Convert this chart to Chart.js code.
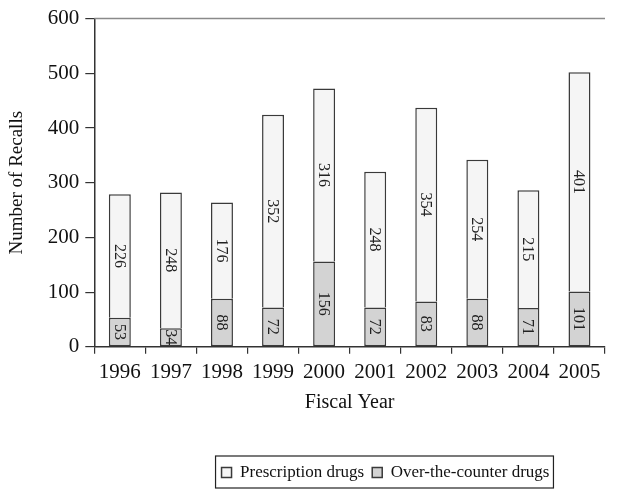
<!DOCTYPE html>
<html>
<head>
<meta charset="utf-8">
<script src="https://cdn.jsdelivr.net/npm/chart.js@4.4.1/dist/chart.umd.min.js"></script>
<style>
  html, body { margin: 0; padding: 0; background: #fff; }
  #wrap { width: 621px; height: 491px; }
</style>
</head>
<body>
<div id="wrap"><canvas id="recallChart"></canvas></div>
<script>
// fiscal years and recall counts
var years = ["1996", "1997", "1998", "1999", "2000", "2001", "2002", "2003", "2004", "2005"];
var otcRecalls = [53, 34, 88, 72, 156, 72, 83, 88, 71, 101];
var rxRecalls = [226, 248, 176, 352, 316, 248, 354, 254, 215, 401];
var yTicks = [0, 100, 200, 300, 400, 500, 600];

var serif = "'Liberation Serif', 'DejaVu Serif', serif";
var legendShift = 80;

// value labels written sideways inside each bar segment
var barLabels = {
    id: 'barLabels',
    afterDatasetsDraw: function (chart) {
        var ctx = chart.ctx;
        ctx.save();
        ctx.fillStyle = '#222';
        ctx.font = '16px ' + serif;
        ctx.textAlign = 'center';
        ctx.textBaseline = 'middle';
        chart.data.datasets.forEach(function (ds, i) {
            chart.getDatasetMeta(i).data.forEach(function (bar, j) {
                var cy = (bar.y + bar.base) / 2;
                ctx.save();
                ctx.translate(bar.x, cy);
                ctx.rotate(Math.PI / 2);
                ctx.fillText(String(ds.data[j]), 0, 1);
                ctx.restore();
            });
        });
        ctx.restore();
    }
};

// thin grey top rule and a frame round the legend
var frame = {
    id: 'frame',
    afterLayout: function (chart) {
        chart.legend.left += legendShift;
        chart.legend.right += legendShift;
    },
    afterDraw: function (chart) {
        var ctx = chart.ctx;
        var a = chart.chartArea;
        ctx.save();
        ctx.strokeStyle = '#8a8a8a';
        ctx.lineWidth = 1.5;
        ctx.beginPath();
        ctx.moveTo(a.left, a.top);
        ctx.lineTo(a.right, a.top);
        ctx.stroke();

        var boxes = chart.legend.legendHitBoxes;
        if (boxes && boxes.length) {
            var l = Math.min.apply(null, boxes.map(function (b) { return b.left; }));
            var r = Math.max.apply(null, boxes.map(function (b) { return b.left + b.width; }));
            var t = Math.min.apply(null, boxes.map(function (b) { return b.top; }));
            var bt = Math.max.apply(null, boxes.map(function (b) { return b.top + b.height; }));
            ctx.strokeStyle = '#222';
            ctx.lineWidth = 1.2;
            ctx.strokeRect(l - 6, t - 8, r - l + 10, bt - t + 15);
        }
        ctx.restore();
    }
};

var ctx = document.getElementById('recallChart').getContext('2d');
var recallChart = new Chart(ctx, {
    type: 'bar',
    data: {
        labels: years,
        datasets: [{
            label: 'Over-the-counter drugs',
            data: otcRecalls,
            backgroundColor: '#d3d3d3',
            borderColor: '#3a3a3a',
            borderWidth: 1.5,
            borderSkipped: false,
            barPercentage: 0.43,
            categoryPercentage: 1
        }, {
            label: 'Prescription drugs',
            data: rxRecalls,
            backgroundColor: '#f5f5f5',
            borderColor: '#3a3a3a',
            borderWidth: 1.5,
            borderSkipped: 'start',
            barPercentage: 0.43,
            categoryPercentage: 1
        }]
    },
    options: {
        responsive: true,
        maintainAspectRatio: false,
        animation: false,
        layout: { padding: { top: 6, right: 16, left: 6, bottom: 0 } },
        scales: {
            x: {
                stacked: true,
                grid: { drawOnChartArea: false, offset: true, tickLength: 7, color: '#333', lineWidth: 1.2 },
                border: { color: '#333', width: 1.5 },
                ticks: { color: '#111', font: { family: serif, size: 21 }, maxRotation: 0, padding: 6 },
                title: { display: true, text: 'Fiscal Year', color: '#111', font: { family: serif, size: 20 }, padding: { top: 0, bottom: 41 } }
            },
            y: {
                stacked: true,
                min: yTicks[0],
                max: yTicks[yTicks.length - 1],
                afterBuildTicks: function (axis) {
                    axis.ticks = yTicks.map(function (v) { return { value: v }; });
                },
                grid: { drawOnChartArea: false, tickLength: 9, color: '#333', lineWidth: 1.2 },
                border: { color: '#333', width: 1.5 },
                ticks: { color: '#111', font: { family: serif, size: 21 }, padding: 6 },
                title: { display: true, text: 'Number of Recalls', color: '#111', font: { family: serif, size: 19 }, padding: { top: 0, bottom: 13 } }
            }
        },
        plugins: {
            legend: {
                position: 'bottom',
                reverse: true,
                labels: {
                    color: '#111',
                    font: { family: serif, size: 17 },
                    boxWidth: 10,
                    boxHeight: 10,
                    padding: 8,
                    useBorderRadius: false
                }
            },
            tooltip: { enabled: false }
        }
    },
    plugins: [barLabels, frame]
});
</script>
</body>
</html>
